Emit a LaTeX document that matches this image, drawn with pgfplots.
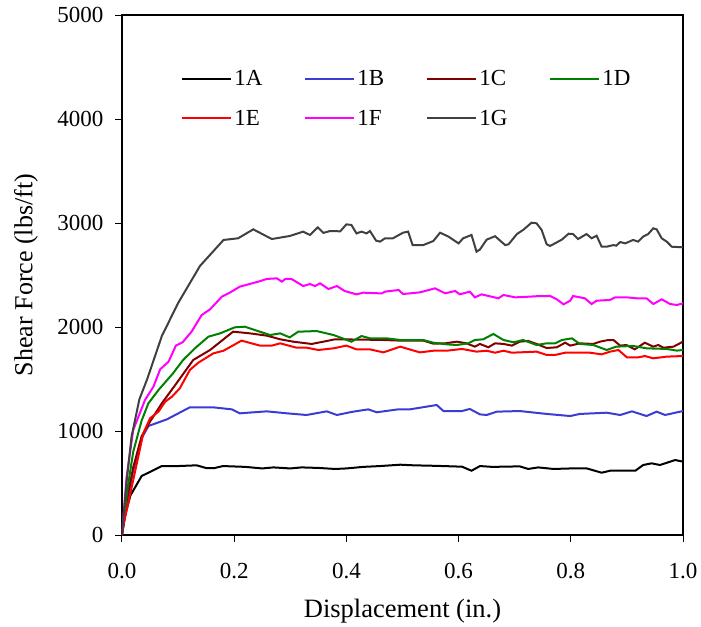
\documentclass[border=0pt]{standalone}
\usepackage{pgfplots}
\pgfplotsset{compat=1.18}
\usepackage{fontspec}
\setmainfont{Liberation Serif}
\definecolor{cA}{RGB}{0,0,0}
\definecolor{cB}{RGB}{60,60,210}
\definecolor{cC}{RGB}{128,0,0}
\definecolor{cD}{RGB}{0,128,0}
\definecolor{cE}{RGB}{255,0,0}
\definecolor{cF}{RGB}{255,0,255}
\definecolor{cG}{RGB}{64,64,64}
\begin{document}
\begin{tikzpicture}
\begin{axis}[
 width=561pt, height=520pt, scale only axis,
 xmin=0, xmax=1, ymin=0, ymax=5000,
 xtick={0,0.2,0.4,0.6,0.8,1.0},
 ytick={0,1000,2000,3000,4000,5000},
 scaled ticks=false,
 /pgf/number format/assume math mode=true,
 xticklabel style={yshift=-18pt, /pgf/number format/.cd, fixed, fixed zerofill, precision=1},
 yticklabel style={xshift=-8pt, /pgf/number format/.cd, set thousands separator={}},
 font=\fontsize{23}{27.6}\selectfont,
 tick align=outside, tick pos=left, major tick length=7pt,
 axis line style={line width=1.8pt},
 every tick/.style={black, line width=1pt},
 xlabel={Displacement (in.)}, ylabel={Shear Force (lbs/ft)},
 every axis x label/.style={at={(axis description cs:0.5,0)}, yshift=-76pt, anchor=center, font=\fontsize{26.5}{31}\selectfont},
 every axis y label/.style={at={(axis description cs:0,0.5)}, xshift=-96pt, rotate=90, anchor=center, font=\fontsize{26}{31}\selectfont},
 legend columns=4,
 legend style={draw=none, fill=none, at={(axis description cs:0.1,0.902)}, anchor=north west,
   row sep=19pt, font=\fontsize{23}{27.6}\selectfont,
   /tikz/every even column/.append style={column sep=40pt}},
 legend image code/.code={\draw[#1, line width=2pt] (0pt,0pt) -- (49pt,0pt);},
 legend cell align=left,
 no marks,
 every axis plot/.append style={line width=2pt},
]
\addplot[cA] coordinates {(0,0) (0.005,180) (0.015,380) (0.035,567) (0.071,663) (0.1,663) (0.133,670) (0.15,644) (0.165,644) (0.18,663) (0.22,655) (0.25,640) (0.27,650) (0.3,640) (0.32,650) (0.35,645) (0.38,635) (0.4,640) (0.43,655) (0.46,663) (0.496,676) (0.52,670) (0.56,665) (0.606,657) (0.623,618) (0.638,663) (0.66,655) (0.709,660) (0.724,635) (0.742,650) (0.769,635) (0.8,640) (0.828,641) (0.855,599) (0.87,618) (0.915,618) (0.929,673) (0.944,689) (0.959,673) (0.986,721) (1.0,705)};
\addlegendentry{1A}
\addplot[cB] coordinates {(0,0) (0.01,350) (0.02,620) (0.035,930) (0.047,1048) (0.08,1112) (0.121,1228) (0.162,1228) (0.196,1208) (0.21,1170) (0.258,1189) (0.294,1170) (0.329,1154) (0.365,1189) (0.383,1154) (0.412,1186) (0.439,1208) (0.454,1180) (0.492,1208) (0.513,1208) (0.561,1250) (0.573,1192) (0.606,1192) (0.62,1212) (0.638,1160) (0.65,1154) (0.668,1186) (0.709,1192) (0.757,1164) (0.799,1144) (0.816,1164) (0.864,1176) (0.888,1154) (0.909,1189) (0.935,1144) (0.953,1186) (0.968,1154) (1.0,1192)};
\addlegendentry{1B}
\addplot[cC] coordinates {(0,0) (0.01,380) (0.02,650) (0.035,950) (0.05,1090) (0.071,1266) (0.097,1458) (0.127,1683) (0.157,1779) (0.198,1955) (0.228,1939) (0.258,1917) (0.282,1882) (0.305,1859) (0.338,1837) (0.359,1859) (0.38,1882) (0.436,1878) (0.466,1875) (0.496,1869) (0.537,1869) (0.555,1840) (0.576,1843) (0.597,1859) (0.614,1843) (0.629,1811) (0.638,1837) (0.653,1805) (0.665,1843) (0.68,1837) (0.695,1821) (0.709,1859) (0.724,1866) (0.739,1837) (0.757,1798) (0.775,1805) (0.79,1849) (0.799,1821) (0.816,1843) (0.84,1837) (0.852,1859) (0.867,1875) (0.876,1875) (0.888,1821) (0.899,1827) (0.914,1785) (0.932,1849) (0.947,1811) (0.956,1827) (0.965,1801) (0.983,1811) (1.0,1859)};
\addlegendentry{1C}
\addplot[cD] coordinates {(0,0) (0.01,450) (0.02,800) (0.035,1100) (0.047,1266) (0.065,1394) (0.091,1555) (0.109,1683) (0.13,1795) (0.154,1907) (0.175,1939) (0.201,1997) (0.219,2003) (0.24,1965) (0.264,1923) (0.282,1939) (0.299,1900) (0.314,1955) (0.347,1961) (0.377,1923) (0.409,1859) (0.427,1913) (0.442,1891) (0.472,1891) (0.496,1875) (0.537,1875) (0.555,1849) (0.579,1833) (0.597,1827) (0.617,1843) (0.629,1875) (0.644,1882) (0.662,1933) (0.68,1875) (0.698,1853) (0.715,1875) (0.739,1827) (0.757,1843) (0.772,1843) (0.784,1875) (0.802,1891) (0.816,1837) (0.84,1827) (0.864,1779) (0.881,1811) (0.911,1818) (0.935,1795) (0.971,1789) (0.989,1773) (1.0,1779)};
\addlegendentry{1D}
\addplot[cE] coordinates {(0,0) (0.002,80) (0.02,529) (0.038,978) (0.05,1122) (0.065,1186) (0.077,1282) (0.089,1330) (0.103,1410) (0.121,1587) (0.136,1657) (0.163,1747) (0.181,1772) (0.213,1869) (0.246,1821) (0.267,1821) (0.282,1843) (0.311,1801) (0.329,1801) (0.35,1779) (0.377,1795) (0.4,1821) (0.418,1785) (0.442,1785) (0.466,1756) (0.496,1811) (0.531,1756) (0.555,1772) (0.579,1772) (0.606,1789) (0.632,1763) (0.65,1772) (0.665,1753) (0.68,1772) (0.695,1753) (0.739,1763) (0.757,1731) (0.772,1731) (0.79,1753) (0.834,1753) (0.855,1737) (0.87,1763) (0.885,1779) (0.9,1708) (0.92,1708) (0.932,1721) (0.947,1699) (0.971,1715) (1.0,1721)};
\addlegendentry{1E}
\addplot[cF] coordinates {(0,0) (0.008,550) (0.02,1010) (0.041,1298) (0.056,1426) (0.068,1593) (0.083,1667) (0.096,1821) (0.108,1853) (0.124,1955) (0.142,2115) (0.157,2170) (0.178,2292) (0.193,2333) (0.21,2388) (0.243,2436) (0.258,2462) (0.276,2468) (0.285,2436) (0.291,2462) (0.302,2462) (0.323,2394) (0.335,2413) (0.344,2394) (0.353,2420) (0.368,2365) (0.383,2394) (0.397,2346) (0.418,2314) (0.43,2330) (0.463,2323) (0.469,2340) (0.493,2356) (0.501,2317) (0.531,2333) (0.558,2372) (0.576,2324) (0.594,2346) (0.602,2314) (0.62,2340) (0.629,2285) (0.641,2314) (0.671,2276) (0.68,2308) (0.701,2285) (0.727,2292) (0.745,2298) (0.763,2298) (0.775,2266) (0.787,2218) (0.799,2253) (0.804,2298) (0.825,2276) (0.837,2221) (0.846,2253) (0.87,2260) (0.879,2285) (0.9,2285) (0.918,2276) (0.935,2276) (0.947,2221) (0.962,2266) (0.977,2221) (0.989,2212) (1.0,2227)};
\addlegendentry{1F}
\addplot[cG] coordinates {(0,0) (0.008,500) (0.017,945) (0.031,1305) (0.045,1500) (0.071,1913) (0.1,2230) (0.139,2587) (0.181,2837) (0.207,2853) (0.234,2939) (0.267,2846) (0.299,2875) (0.323,2917) (0.335,2885) (0.349,2958) (0.359,2905) (0.371,2923) (0.389,2920) (0.4,2987) (0.409,2981) (0.418,2900) (0.427,2917) (0.436,2900) (0.442,2923) (0.453,2830) (0.46,2821) (0.469,2853) (0.483,2853) (0.501,2907) (0.51,2917) (0.518,2788) (0.537,2788) (0.555,2827) (0.567,2907) (0.582,2869) (0.6,2804) (0.608,2853) (0.623,2885) (0.632,2724) (0.638,2745) (0.65,2840) (0.665,2873) (0.683,2788) (0.689,2795) (0.704,2894) (0.715,2933) (0.73,3003) (0.739,2997) (0.748,2933) (0.757,2795) (0.763,2779) (0.784,2840) (0.796,2897) (0.804,2894) (0.813,2846) (0.828,2894) (0.837,2853) (0.846,2878) (0.855,2772) (0.864,2772) (0.876,2788) (0.881,2782) (0.888,2817) (0.897,2804) (0.911,2837) (0.92,2821) (0.929,2869) (0.938,2894) (0.947,2949) (0.953,2939) (0.962,2853) (0.971,2821) (0.98,2772) (1.0,2766)};
\addlegendentry{1G}
\end{axis}
\path (-122pt,-91pt) rectangle (579pt,535pt);
\end{tikzpicture}
\end{document}
